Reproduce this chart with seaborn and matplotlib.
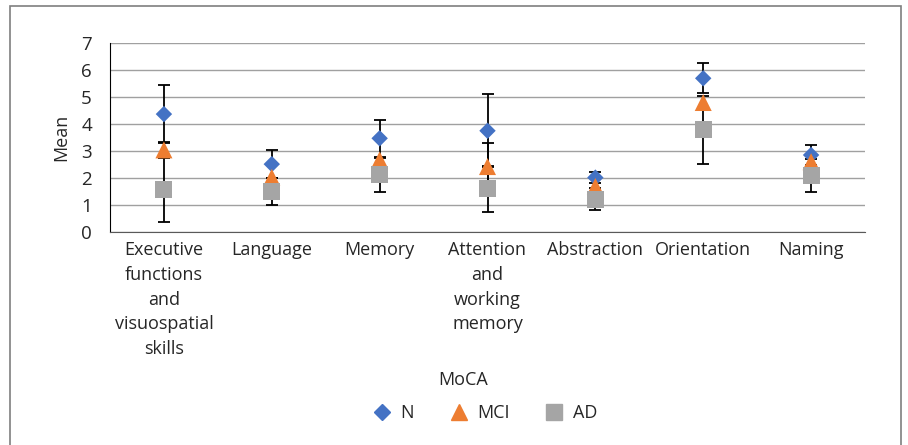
import numpy as np
import pandas as pd
import matplotlib.pyplot as plt
import matplotlib.patches as mpatches
from matplotlib.lines import Line2D
import seaborn as sns

# data
domains = [
    "Executive\nfunctions\nand\nvisuospatial\nskills",
    "Language",
    "Memory",
    "Attention\nand\nworking\nmemory",
    "Abstraction",
    "Orientation",
    "Naming",
]
groups = ["N", "MCI", "AD"]
n_mean = [4.37, 2.51, 3.47, 3.75, 2.01, 5.70, 2.85]
n_err = [1.07, 0.53, 0.68, 1.35, 0.19, 0.56, 0.37]
mci_mean = [3.04, 2.02, 2.67, 2.42, 1.68, 4.80, 2.60]
mci_err = [0.28, 0.0, 0.0, 0.89, 0.0, 0.0, 0.0]
ad_mean = [1.55, 1.49, 2.11, 1.59, 1.21, 3.78, 2.08]
ad_err = [1.20, 0.51, 0.64, 0.84, 0.40, 1.28, 0.62]

colors = {"N": "#4472C4", "MCI": "#ED7D31", "AD": "#A5A5A5"}
markers = {"N": "D", "MCI": "^", "AD": "s"}
sizes = {"N": 70, "MCI": 150, "AD": 150}

sns.set_style("white")
plt.rcParams["font.family"] = ["Open Sans", "DejaVu Sans"]
plt.rcParams["font.size"] = 13

df = pd.DataFrame({
    "domain": domains * 3,
    "pos": list(range(len(domains))) * 3,
    "group": np.repeat(groups, len(domains)),
    "mean": n_mean + mci_mean + ad_mean,
    "err": n_err + mci_err + ad_err,
})

fig = plt.figure(figsize=(9.08, 4.45), dpi=100)
ax = fig.add_axes([110 / 908, 1 - 231.7 / 445, 755 / 908, 188.4 / 445])

# error bars first, markers on top
for g in groups:
    sub = df[(df["group"] == g) & (df["err"] > 0)]
    ax.errorbar(sub["pos"], sub["mean"], yerr=sub["err"], fmt="none",
                ecolor="black", elinewidth=1.3, capsize=4, capthick=1.3, zorder=2)

sns.scatterplot(data=df, x="pos", y="mean", hue="group", style="group",
                size="group", sizes=sizes, palette=colors, markers=markers,
                linewidth=0, legend=False, zorder=3, ax=ax)

ax.set_ylim(0, 7)
ax.set_yticks(range(0, 8))
ax.set_xlim(-0.5, len(domains) - 0.5)
ax.set_xticks(np.arange(-0.5, len(domains), 1.0))
ax.set_xticklabels([])
ax.set_xticks(range(len(domains)), minor=True)
ax.set_xticklabels(domains, minor=True, linespacing=1.47, ha="center", va="top")
ax.tick_params(axis="x", which="major", length=5, width=1, color="#595959", direction="out")
ax.tick_params(axis="x", which="minor", length=0, pad=7)
ax.tick_params(axis="y", length=6, width=1, color="black", direction="out", pad=7,
               labelsize=13.5)
ax.yaxis.grid(True, color="#a0a0a0", linewidth=1)
ax.set_axisbelow(True)
ax.set_xlabel("")
ax.set_ylabel("Mean", fontsize=13, labelpad=8)
for s in ["top", "right"]:
    ax.spines[s].set_visible(False)
ax.spines["left"].set_color("black")
ax.spines["bottom"].set_color("#595959")

fig.text(463 / 908, 1 - 380 / 445, "MoCA", ha="center", va="center", fontsize=13)
handles = [Line2D([], [], linestyle="none", marker=markers[g], color=colors[g],
                  markersize=(8.5 if g == "N" else 12)) for g in groups]
fig.legend(handles, groups, ncol=3, frameon=False,
           loc="center", bbox_to_anchor=(485 / 908, 1 - 413 / 445),
           fontsize=13, handlelength=1.0, handletextpad=0.5, columnspacing=2.0)

fig.patches.append(mpatches.Rectangle((10 / 908, -0.05), 891 / 908, 1.05 - 6 / 445,
                                      transform=fig.transFigure, fill=False,
                                      edgecolor="#7f7f7f", linewidth=1.2))

fig.savefig("out.png", dpi=100)
